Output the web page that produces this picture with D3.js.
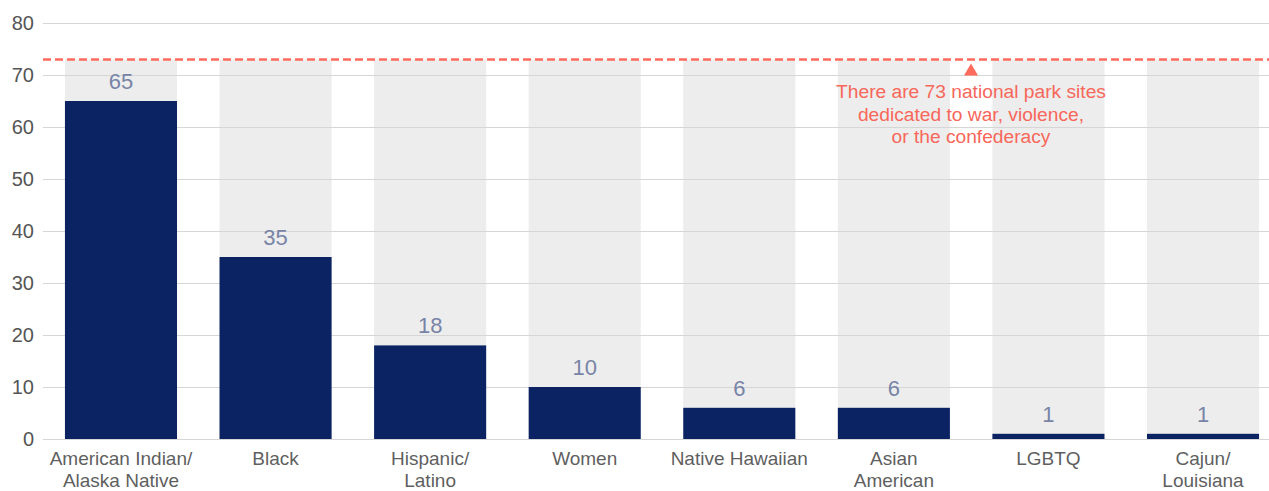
<!DOCTYPE html>
<html><head><meta charset="utf-8">
<script src="https://cdn.jsdelivr.net/npm/d3@7"></script>
<style>body{margin:0;background:#fff}svg{display:block;font-family:"Liberation Sans",Arial,sans-serif}</style>
</head><body><svg id="c" width="1269" height="491"></svg>
<script>
const categories = [["American Indian/","Alaska Native"],["Black"],["Hispanic/","Latino"],["Women"],["Native Hawaiian"],["Asian","American"],["LGBTQ"],["Cajun/","Louisiana"]];
const values = [65,35,18,10,6,6,1,1];
const yTicks = [0,10,20,30,40,50,60,70,80];
const referenceValue = 73;
const annotationLines = ["There are 73 national park sites","dedicated to war, violence,","or the confederacy"];

const svg = d3.select("#c");
const keys = categories.map((c,i)=>i);
const x = d3.scaleBand().domain(keys).range([43,1281]).paddingInner(0.275).paddingOuter(0.142);
const y = d3.scaleLinear().domain([0,80]).range([439,23]);

// background bars
svg.append("g").selectAll("rect").data(keys).join("rect")
  .attr("x",d=>x(d)).attr("width",x.bandwidth())
  .attr("y",y(referenceValue)).attr("height",y(0)-y(referenceValue))
  .attr("fill","#ededed");

// gridlines + y axis
const yAxis = d3.axisLeft(y).tickValues(yTicks).tickSize(-(1269-43)).tickPadding(9);
const gy = svg.append("g").attr("transform","translate(43,0)").call(yAxis);
gy.select(".domain").remove();
gy.selectAll(".tick line").attr("stroke","#d6d6d6").attr("stroke-width",1);
gy.selectAll(".tick text").attr("fill","#555").attr("font-size",20).attr("font-family","Liberation Sans, Arial, sans-serif");

// bars
svg.append("g").selectAll("rect").data(keys).join("rect")
  .attr("x",d=>x(d)).attr("width",x.bandwidth())
  .attr("y",d=>y(values[d])).attr("height",d=>y(0)-y(values[d]))
  .attr("fill","#0b2363");

// value labels
svg.append("g").selectAll("text").data(keys).join("text")
  .attr("x",d=>x(d)+x.bandwidth()/2).attr("y",d=>y(values[d])-12)
  .attr("text-anchor","middle").attr("fill","#7884a6").attr("font-size",22)
  .text(d=>values[d]);

// x labels
const xl = svg.append("g").selectAll("text").data(keys).join("text")
  .attr("x",d=>x(d)+x.bandwidth()/2).attr("y",465)
  .attr("text-anchor","middle").attr("fill","#5f5f5f").attr("font-size",19);
xl.each(function(d){
  const t = d3.select(this);
  categories[d].forEach((line,i)=>{
    t.append("tspan").attr("x",x(d)+x.bandwidth()/2).attr("dy",i===0?0:22).text(line);
  });
});

// reference line
svg.append("line").attr("x1",43).attr("x2",1269).attr("y1",y(referenceValue)).attr("y2",y(referenceValue))
  .attr("stroke","#ff6b5c").attr("stroke-width",2.5).attr("stroke-dasharray","8,4");

// annotation
const ax = 971;
svg.append("path").attr("d",`M${ax},${y(referenceValue)+4} L${ax+7},${y(referenceValue)+16} L${ax-7},${y(referenceValue)+16} Z`).attr("fill","#ff6b5c");
svg.append("g").selectAll("text").data(annotationLines).join("text")
  .attr("x",ax).attr("y",(d,i)=>98+i*22.5).attr("text-anchor","middle")
  .attr("fill","#f7675a").attr("font-size",19.2).text(d=>d);
</script></body></html>
